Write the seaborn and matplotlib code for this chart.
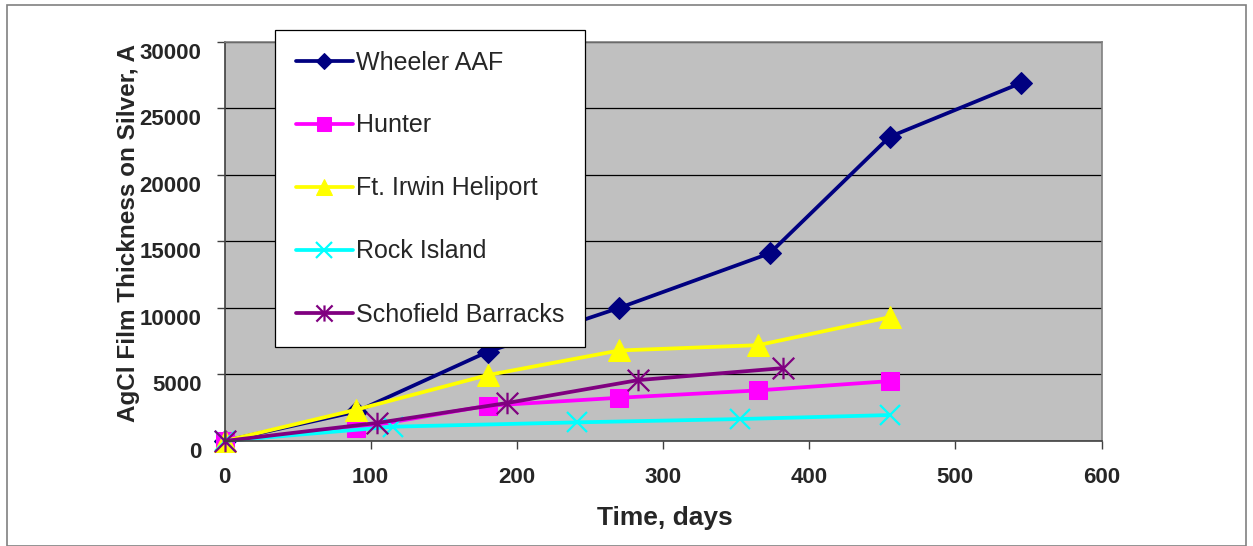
import numpy as np
import pandas as pd
import matplotlib
matplotlib.use("Agg")
import matplotlib.pyplot as plt
import matplotlib.transforms as mtransforms
from matplotlib.path import Path
from matplotlib.patches import Rectangle
import seaborn as sns

# Exposure time (days) and AgCl film thickness (Angstrom) for each site
wheeler_days = [0, 90, 180, 270, 373, 455, 545]
wheeler_thk = [0, 2200, 6700, 10000, 14100, 22850, 26900]

hunter_days = [0, 90, 180, 270, 365, 455]
hunter_thk = [0, 950, 2650, 3250, 3800, 4500]

irwin_days = [0, 90, 180, 270, 365, 455]
irwin_thk = [0, 2350, 4950, 6800, 7200, 9300]

rock_days = [0, 115, 241, 353, 455]
rock_thk = [0, 1075, 1400, 1650, 1950]

schofield_days = [0, 104, 193, 283, 382]
schofield_thk = [0, 1350, 2850, 4575, 5475]

site_names = ["Wheeler AAF", "Hunter", "Ft. Irwin Heliport", "Rock Island", "Schofield Barracks"]
x_ticks = [0, 100, 200, 300, 400, 500, 600]
y_ticks = [0, 5000, 10000, 15000, 20000, 25000, 30000]

sns.set_theme(style="white")
plt.rcParams["font.family"] = ["Liberation Sans", "DejaVu Sans"]

# Asterisk marker: vertical stroke plus an X
asterisk = Path(
    [(0, -1), (0, 1), (-1, -1), (1, 1), (-1, 1), (1, -1)],
    [Path.MOVETO, Path.LINETO, Path.MOVETO, Path.LINETO, Path.MOVETO, Path.LINETO],
)

series = [
    (wheeler_days, wheeler_thk, "#000080", "D", 11.5, dict()),
    (hunter_days, hunter_thk, "#FF00FF", "s", 13.5, dict()),
    (irwin_days, irwin_thk, "#FFFF00", "^", 16, dict()),
    (rock_days, rock_thk, "#00FFFF", "x", 15, dict(markeredgewidth=1.6)),
    (schofield_days, schofield_thk, "#800080", asterisk, 15.5, dict(markeredgewidth=1.6)),
]

W, H = 1253, 546
fig = plt.figure(figsize=(W / 100, H / 100), dpi=100)
ax = fig.add_axes([224.5 / W, 1 - 441 / H, 877 / W, 399.3 / H])
ax.set_facecolor("#C0C0C0")

for name, (xs, ys, col, mk, ms, extra) in zip(site_names, series):
    df = pd.DataFrame({"days": xs, "thk": ys})
    sns.lineplot(
        data=df, x="days", y="thk", ax=ax, color=col, linewidth=2.7,
        marker=mk, markersize=ms, markeredgecolor=col, markerfacecolor=col,
        label=name, estimator=None, sort=False, clip_on=False, **extra,
    )

ax.set_xlim(0, 600)
ax.set_ylim(0, 30000)
ax.set_xticks(x_ticks)
ax.set_yticks(y_ticks)
ax.set_xticklabels([str(v) for v in x_ticks], fontsize=16, fontweight="bold")
ax.set_yticklabels([str(v) for v in y_ticks], fontsize=16, fontweight="bold")
ax.tick_params(axis="both", which="both", direction="out", length=5.5, width=1,
               color="#404040", left=True, bottom=True)
ax.tick_params(axis="y", pad=11)
ax.tick_params(axis="x", pad=13)

# y tick labels sit slightly below their gridlines
shift = mtransforms.ScaledTranslation(0, -0.09, fig.dpi_scale_trans)
for lbl in ax.get_yticklabels():
    lbl.set_transform(lbl.get_transform() + shift)

ax.grid(axis="y", color="black", linewidth=0.9)
ax.grid(axis="x", visible=False)
ax.set_axisbelow(True)

for side in ["top", "right"]:
    ax.spines[side].set_color("#808080")
    ax.spines[side].set_linewidth(1.2)
for side in ["left", "bottom"]:
    ax.spines[side].set_color("#404040")
    ax.spines[side].set_linewidth(1.2)

ax.set_xlabel("Time, days", fontsize=19, fontweight="bold")
ax.set_ylabel("AgCl Film Thickness on Silver, A", fontsize=17.5, fontweight="bold")
ax.xaxis.label.set_va("center")
ax.yaxis.label.set_va("center")
ax.xaxis.set_label_coords(0.5023, -0.193)
ax.yaxis.set_label_coords(-0.110, 0.522)

leg = ax.legend(
    loc="upper left", bbox_to_anchor=(50.5 / 877, 1 + 11.7 / 399.3), fontsize=18,
    frameon=True, fancybox=False, framealpha=1, edgecolor="black",
    labelspacing=1.56, handlelength=2.3, handletextpad=0.12,
    borderpad=0.82, borderaxespad=0, markerscale=0.75,
)
leg.get_frame().set_linewidth(0.9)

# outer chart-area border
fig.patches.append(Rectangle((7 / W, 0), 1239 / W, 1 - 5 / H,
                             transform=fig.transFigure, fill=False,
                             edgecolor="#808080", linewidth=1.2))

fig.savefig("out.png", dpi=100)
